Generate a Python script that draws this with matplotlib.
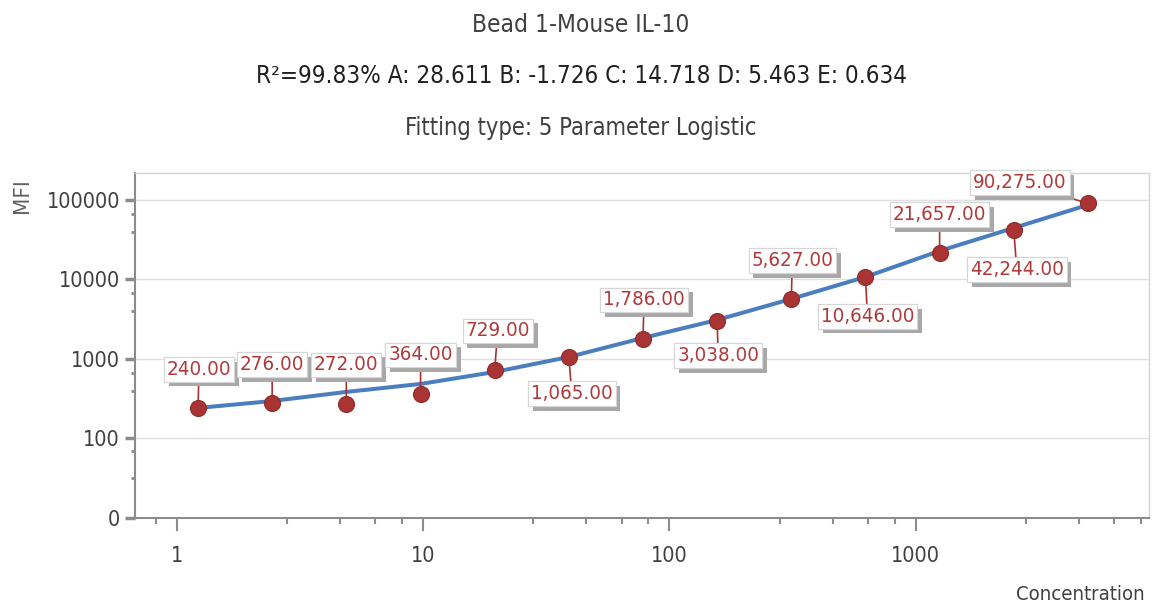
import matplotlib
matplotlib.use('Agg')
import matplotlib.pyplot as plt
import matplotlib.patheffects as pe
from matplotlib.ticker import FixedLocator, NullFormatter

plt.rcParams['font.family'] = ['DejaVu Sans']
plt.rcParams['font.stretch'] = 'condensed'

# standard curve: 2-fold dilution series
concentration = [1.22, 2.44, 4.88, 9.77, 19.53, 39.06, 78.13, 156.25, 312.5, 625, 1250, 2500, 5000]
mfi = [240, 276, 272, 364, 729, 1065, 1786, 3038, 5627, 10646, 21657, 42244, 90275]
# fitted 5PL curve, sampled at the standards
fit_mfi = [242, 296, 385, 485, 686, 1059, 1837, 3095, 5686, 10750, 22820, 44430, 86500]

x_major = [1, 10, 100, 1000]
x_labels = ['1', '10', '100', '1000']
y_major = [10, 100, 1000, 10000, 100000]
y_labels = ['0', '100', '1000', '10000', '100000']

# label offsets (pixels) of the value callouts from their points
label_offsets = [(1, 39), (0, 39), (0, 39), (0, 39), (3, 39), (3, -37), (1, 39),
                 (1, -35), (1, 39), (2, -39), (0, 38), (3, -40), (-68, 21)]

PX = 72 / 100  # points per pixel at dpi 100

fig = plt.figure(figsize=(11.58, 6.08), dpi=100)
ax = fig.add_axes([135 / 1158, 1 - 518 / 608, (1149 - 135) / 1158, (518 - 173) / 608])

ax.set_xscale('log')
ax.set_yscale('log')
ax.set_xlim(0.677, 8850)
ax.set_ylim(10, 218000)

ax.plot(concentration, fit_mfi, color='#4a7ebf', lw=4 * PX, zorder=2, solid_capstyle='round')
ax.plot(concentration, mfi, 'o', ms=16 * PX, mfc='#a83434', mec='#922b2b', mew=0.8, zorder=5)

for c, v, (dx, dy) in zip(concentration, mfi, label_offsets):
    t = ax.annotate(f'{v:,.2f}', xy=(c, v), xytext=(dx * PX, dy * PX),
                    textcoords='offset points', ha='center', va='center',
                    color='#b03a3a', fontsize=14.7,
                    bbox=dict(boxstyle='square,pad=0.14', fc='white', ec='#d6d6d6', lw=0.8),
                    arrowprops=dict(arrowstyle='-', color='#a83232', lw=1.2,
                                    shrinkA=0, shrinkB=0),
                    zorder=4)
    t.get_bbox_patch().set_path_effects([
        pe.withSimplePatchShadow(offset=(3.5, -3.5), shadow_rgbFace='#a8a8a8', alpha=1.0),
        pe.Normal()])

# ticks
ax.xaxis.set_major_locator(FixedLocator(x_major))
ax.set_xticklabels(x_labels)
x_minor = [d * m for d in [0.1, 1, 10, 100, 1000] for m in [2.8, 4.6, 6.4, 8.2]]
ax.xaxis.set_minor_locator(FixedLocator([t for t in x_minor if 0.677 < t < 8850]))
ax.xaxis.set_minor_formatter(NullFormatter())

ax.yaxis.set_major_locator(FixedLocator(y_major))
ax.set_yticklabels(y_labels)
y_minor = [32, 69] + [d * m for d in [100, 1000, 10000, 100000] for m in [4, 6.7]]
ax.yaxis.set_minor_locator(FixedLocator([t for t in y_minor if t < 218000]))
ax.yaxis.set_minor_formatter(NullFormatter())

ax.tick_params(axis='x', which='major', length=13 * PX, width=1.5, color='#8c8c8c',
               pad=15 * PX, labelsize=15.5, labelcolor='#404040')
ax.tick_params(axis='x', which='minor', length=6 * PX, width=1.5, color='#8c8c8c')
ax.tick_params(axis='y', which='major', length=10 * PX, width=2.5, color='#8c8c8c',
               pad=5 * PX, labelsize=15.5, labelcolor='#404040')
ax.tick_params(axis='y', which='minor', length=4.5 * PX, width=2, color='#8c8c8c')

ax.grid(True, axis='y', which='major', color='#e0e0e0', lw=1)
ax.set_axisbelow(True)
for side in ['left', 'bottom']:
    ax.spines[side].set_color('#8c8c8c')
    ax.spines[side].set_linewidth(1.5)
for side in ['top', 'right']:
    ax.spines[side].set_color('#d4d4d4')
    ax.spines[side].set_linewidth(1)

# header text
fig.text(581 / 1158, 1 - 25 / 608, 'Bead 1-Mouse IL-10', ha='center', va='center',
         fontsize=17.6, color='#404040')
fig.text(581 / 1158, 1 - 76 / 608,
         'R²=99.83% A: 28.611 B: -1.726 C: 14.718 D: 5.463 E: 0.634',
         ha='center', va='center', fontsize=17.4, color='#202020')
fig.text(581 / 1158, 1 - 128 / 608, 'Fitting type: 5 Parameter Logistic',
         ha='center', va='center', fontsize=17.0, color='#404040')

fig.text(22 / 1158, 1 - 196 / 608, 'MFI', rotation=90, ha='center', va='center',
         fontsize=16, color='#606060')
fig.text(1145 / 1158, 1 - 595 / 608, 'Concentration', ha='right', va='center',
         fontsize=14.6, color='#404040')

fig.savefig('out.png', dpi=100, facecolor='white')
